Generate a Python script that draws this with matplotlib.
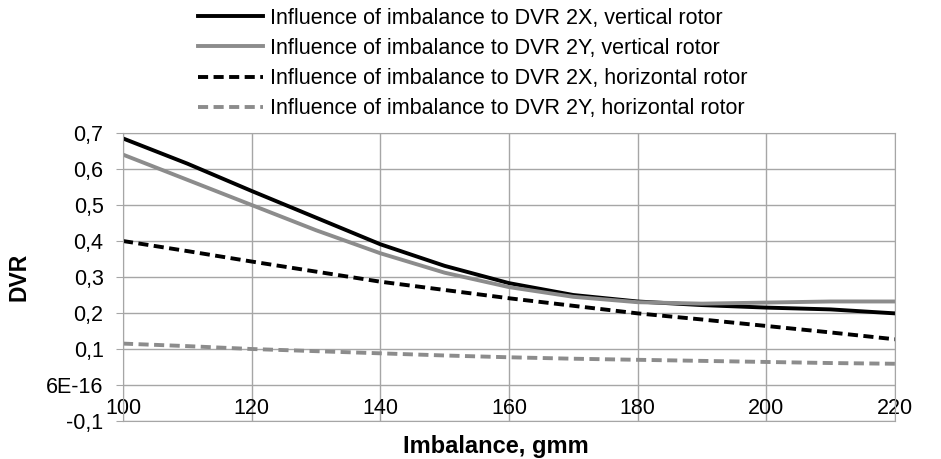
import matplotlib
matplotlib.use("Agg")
from matplotlib import pyplot as plt
import numpy as np

# values
imbalance = [100, 110, 120, 130, 140, 150, 160, 170, 180, 190, 200, 210, 220]
dvr_2x_vert = [0.685, 0.615, 0.539, 0.465, 0.391, 0.331, 0.283, 0.250, 0.232, 0.222, 0.215, 0.210, 0.199]
dvr_2y_vert = [0.640, 0.570, 0.500, 0.430, 0.366, 0.312, 0.272, 0.245, 0.230, 0.226, 0.229, 0.232, 0.232]
dvr_2x_horiz = [0.400, 0.372, 0.343, 0.315, 0.287, 0.264, 0.241, 0.220, 0.199, 0.182, 0.164, 0.146, 0.127]
dvr_2y_horiz = [0.115, 0.108, 0.100, 0.094, 0.088, 0.082, 0.077, 0.073, 0.070, 0.067, 0.064, 0.061, 0.059]

labels = ["Influence of imbalance to DVR 2X, vertical rotor",
          "Influence of imbalance to DVR 2Y, vertical rotor",
          "Influence of imbalance to DVR 2X, horizontal rotor",
          "Influence of imbalance to DVR 2Y, horizontal rotor"]

x_ticks = [100, 120, 140, 160, 180, 200, 220]
y_ticks = [-0.1, 0.0, 0.1, 0.2, 0.3, 0.4, 0.5, 0.6, 0.7]
y_tick_labels = ["-0,1", "6E-16", "0,1", "0,2", "0,3", "0,4", "0,5", "0,6", "0,7"]

plt.rcParams['font.family'] = ['Liberation Sans', 'DejaVu Sans']

fig = plt.figure(figsize=(9.41, 4.59), dpi=100)
ax = fig.add_axes([0.1307, 0.0828, 0.951 - 0.1307, 0.7102 - 0.0828])

grey = "#8c8c8c"
dash = (0, (2.6, 1.4))
ax.plot(imbalance, dvr_2x_vert, color="black", lw=2.8, label=labels[0])
ax.plot(imbalance, dvr_2y_vert, color=grey, lw=2.8, label=labels[1])
ax.plot(imbalance, dvr_2x_horiz, color="black", lw=2.8, ls=dash, label=labels[2])
ax.plot(imbalance, dvr_2y_horiz, color=grey, lw=2.8, ls=dash, label=labels[3])

ax.set_xlim(100, 220)
ax.set_ylim(-0.1, 0.7)
ax.set_xticks(x_ticks)
ax.set_yticks(y_ticks)
ax.set_yticklabels(y_tick_labels)
ax.grid(True, color="#a6a6a6", lw=1)
for s in ax.spines.values():
    s.set_color("#a6a6a6")
ax.tick_params(axis='y', length=5, color="#a6a6a6", labelsize=15.5, pad=9)
ax.tick_params(axis='x', length=0, labelsize=15.5, pad=-1.5)
for t in ax.get_xticklabels():
    t.set_verticalalignment('bottom')

ax.set_xlabel("Imbalance, gmm", fontsize=17, fontweight='bold', va='center')
ax.xaxis.set_label_coords(0.483, -0.087)
ax.set_ylabel("DVR", fontsize=16.5, fontweight='bold', va='center')
ax.yaxis.set_label_coords(-0.135, 0.5)

leg = fig.legend(loc='upper left', bbox_to_anchor=(0.2104, 0.9826), frameon=False,
                 prop={'size': 15.5}, handlelength=3.0,
                 handletextpad=0.33, labelspacing=0.42, borderpad=0, borderaxespad=0)

fig.savefig("out.png", dpi=100)
